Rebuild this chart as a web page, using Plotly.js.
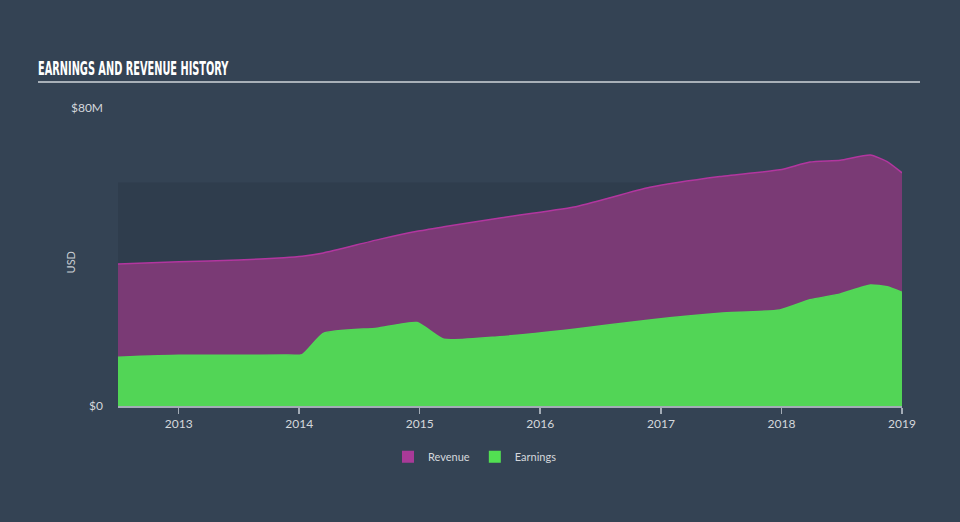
<!DOCTYPE html>
<html>
<head>
<meta charset="utf-8">
<script src="https://cdn.plot.ly/plotly-3.0.1.min.js"></script>
<style>
html,body{margin:0;padding:0;background:#344354;}
#chart{width:960px;height:522px;}
</style>
</head>
<body>
<div id="chart"></div>
<script>
var dates = ["2012-07-01","2013-01-01","2013-07-01","2013-11-15","2014-01-10","2014-03-15","2014-08-25","2014-12-24","2015-03-15","2015-09-01","2016-04-12","2016-11-28","2017-06-28","2017-12-27","2018-03-28","2018-06-28","2018-09-27","2018-11-17","2019-01-01"];
var revenue = [38.1,38.7,39.2,39.8,40.2,41.1,44.6,46.9,48.1,50.5,53.4,58.7,61.6,63.4,65.5,66.0,67.4,65.6,62.6];
var earnings = [13.1,13.6,13.6,13.7,13.8,19.5,20.9,22.4,17.9,18.6,20.6,23.1,24.9,25.8,28.5,30.1,32.5,32.0,30.5];
var yTickVals = [0,80];
var yTickText = ["$0","$80M"];
var xTickVals = ["2013-01-01","2014-01-01","2015-01-01","2016-01-01","2017-01-01","2018-01-01","2019-01-01"];
var xTickText = ["2013","2014","2015","2016","2017","2018","2019"];

var font = "Lato, 'Open Sans', sans-serif";
var traces = [
  {x: dates, y: revenue, type: "scatter", mode: "lines", fill: "tozeroy",
   line: {color: "#b2369f", width: 1.5, shape: "spline", smoothing: 0.5},
   fillcolor: "#7a3a75", showlegend: false, hoverinfo: "skip"},
  {x: dates, y: earnings, type: "scatter", mode: "lines", fill: "tozeroy",
   line: {color: "#52d657", width: 1.5, shape: "spline", smoothing: 0.5},
   fillcolor: "#52d556", showlegend: false, hoverinfo: "skip"},
  {x: [null], y: [null], type: "bar", name: "Revenue", marker: {color: "#a93a98"}},
  {x: [null], y: [null], type: "bar", name: "Earnings", marker: {color: "#52e052"}}
];

var layout = {
  width: 960, height: 522,
  paper_bgcolor: "#344354", plot_bgcolor: "rgba(0,0,0,0)",
  margin: {l: 118, r: 58, t: 108, b: 116, autoexpand: false},
  font: {family: font, color: "#d4d8dc", size: 12},
  title: {text: "EARNINGS AND REVENUE HISTORY", x: 38/960, xanchor: "left",
          xref: "container", yref: "container", y: 1 - 68/522, yanchor: "middle",
          font: {family: "'Liberation Sans Narrow', 'DejaVu Sans Condensed', sans-serif", size: 19, color: "#ffffff", weight: "bold"}},
  xaxis: {type: "date", range: ["2012-07-01","2019-01-01"], tickvals: xTickVals, ticktext: xTickText,
          showgrid: false, zeroline: false, showline: true, linecolor: "#a3acb6", linewidth: 1.5,
          ticks: "outside", ticklen: 6, tickcolor: "#a3acb6", tickwidth: 1.5,
          tickfont: {size: 12, color: "#d4d8dc"}, fixedrange: true, automargin: false},
  yaxis: {range: [0, 80], tickvals: yTickVals, ticktext: yTickText, showgrid: false, zeroline: false,
          showline: false, ticks: "", ticklabelstandoff: 14, tickfont: {size: 12, color: "#d4d8dc"}, fixedrange: true, automargin: false},
  showlegend: true,
  legend: {orientation: "h", x: (475-118)/784, xanchor: "center", y: -0.17, yanchor: "middle",
           font: {size: 11, color: "#d4d8dc"}, bgcolor: "rgba(0,0,0,0)"},
  shapes: [
    {type: "rect", xref: "paper", yref: "y", x0: 0, x1: 1, y0: 0, y1: 60, fillcolor: "#2f3d4d", line: {width: 0}, layer: "below"},
    {type: "line", xref: "paper", yref: "paper", x0: (38-118)/784, x1: (920-118)/784, y0: (406-82)/298, y1: (406-82)/298,
     line: {color: "#a8b0b8", width: 2}}
  ],
  annotations: [
    {text: "USD", xref: "paper", yref: "paper", x: 0, y: 0.48, xshift: -56, textangle: -90, showarrow: false,
     font: {size: 11, color: "#c8cdd2"}}
  ]
};
Plotly.newPlot("chart", traces, layout, {displayModeBar: false, staticPlot: true}).then(function(gd){
  var t = gd.querySelector(".gtitle");
  if (t && t.getBBox) {
    var bb = t.getBBox();
    var target = 191;
    if (bb.width > 0) {
      var sx = target / bb.width;
      var x0 = bb.x;
      t.setAttribute("transform", "translate(" + x0 + ",0) scale(" + sx + ",1) translate(" + (-x0) + ",0)");
    }
  }
});
</script>
</body>
</html>
